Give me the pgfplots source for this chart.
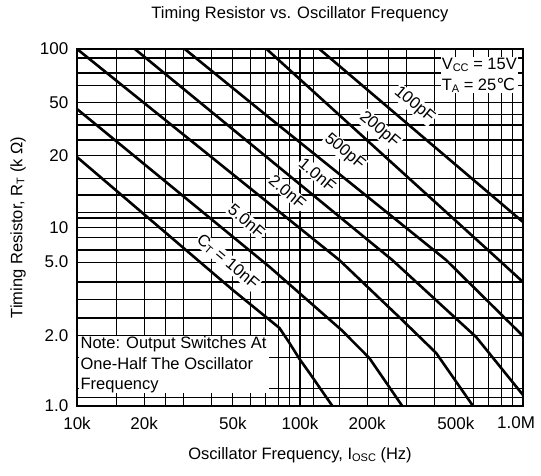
\documentclass[border=0pt]{standalone}
\usepackage{pgfplots}
\pgfplotsset{compat=1.18}
\usepackage{fontspec}
\setmainfont{Liberation Sans}
\newfontfamily\dejavu{DejaVu Sans}
\newcommand\sub[1]{\raisebox{-0.25ex}{\fontsize{11bp}{11bp}\selectfont #1}}

\begin{document}
\fontsize{16.5bp}{20.5bp}\selectfont
\begin{tikzpicture}
\useasboundingbox (-77bp,-70bp) rectangle (464bp,406bp);
\begin{axis}[
    width             = 446bp,
    height            = 357bp,
    scale only axis,
    xmode             = log,
    ymode             = log,
    xmin = 1e4, xmax = 1e6,
    ymin = 1,   ymax = 100,
    xtick             = {1e4,2e4,5e4,1e5,2e5,5e5,1e6},
    xticklabels       = {10k,20k,50k,100k,200k,500k,\makebox[24bp][r]{1.0M}},
    ytick             = {1,2.47,6.4,10,25.3,50,100},
    yticklabels       = {1.0,2.0,5.0,10,20,50,100},
    minor xtick       = {15e3,25e3,3e4,4e4,6e4,7e4,8e4,9e4,1.15e5,1.5e5,2.5e5,3e5,4e5,6e5,7e5,8e5,9e5},
    minor ytick       = {1.12,1.26,1.86,3.11,3.93,4.95,7.48,8.74,11.3,12.2,15.2,18.9,30.9,37.5,43.2,62.1,73.4,89},
    grid              = both,
    major grid style  = {black, line width=1.1bp},
    minor grid style  = {black, line width=1.1bp},
    axis line style   = {black, line width=1.3bp},
    major tick length = 0pt,
    minor tick length = 0pt,
    tick label style  = {font=\fontsize{17bp}{18bp}\selectfont},
    xticklabel style  = {yshift=-5bp},
    yticklabel style  = {xshift=-3bp}]

    \addplot[black, line width=2.6bp, line join=round] coordinates {
        (122200,100) (1e6,10.73)};
    \addplot[black, line width=2.6bp, line join=round] coordinates {
        (70800,100) (780600,6.57) (1e6,4.95)};
    \addplot[black, line width=2.6bp, line join=round] coordinates {
        (30420,100) (73100,41.06) (452300,6.57) (1e6,2.467)};
    \addplot[black, line width=2.6bp, line join=round] coordinates {
        (18170,100) (259400,6.57) (616300,2.435) (1e6,1.152)};
    \addplot[black, line width=2.6bp, line join=round] coordinates {
        (1e4,100) (150200,6.57) (287400,3.03) (408000,1.98) (597000,1)};
    \addplot[black, line width=2.6bp, line join=round] coordinates {
        (1e4,46.1) (73100,6.01) (153400,2.666) (204600,1.857) (287400,1)};
    \addplot[black, line width=2.6bp, line join=round] coordinates {
        (1e4,24.8) (49900,4.47) (80900,2.735) (89700,2.254) (99500,1.834) (110300,1.531) (139700,1)};

    \node[fill=white, inner sep=1bp, rotate=-40] at (axis cs:325300,48.6) {100pF};
    \node[fill=white, inner sep=1bp, rotate=-40] at (axis cs:226800,35.2) {200pF};
    \node[fill=white, inner sep=1bp, rotate=-40] at (axis cs:158200,26.5) {500pF};
    \node[fill=white, inner sep=1bp, rotate=-40] at (axis cs:119800,19.7) {1.0nF};
    \node[fill=white, inner sep=1bp, rotate=-40] at (axis cs:87900,15.8) {2.0nF};
    \node[fill=white, inner sep=1bp, rotate=-40] at (axis cs:57600,10.87) {5.0nF};
    \node[fill=white, inner sep=1bp, rotate=-40] at (axis cs:47400,6.41) {C\sub{T} = 10nF};

    \node[anchor=north west, fill=white, inner xsep=2bp, inner ysep=0.5bp, align=left]
        at (axis cs:10150,2.47) {Note: Output Switches At\\One-Half The Oscillator\\Frequency};
    \node[anchor=north east, fill=white, inner sep=1bp, align=left]
        at (axis cs:950000,90) {V\sub{CC} = 15V\\T\sub{A} = 25{\dejavu ℃}};
\end{axis}
\node at (223bp,392bp) {Timing Resistor vs. Oscillator Frequency};
\node at (223bp,-49bp) {Oscillator Frequency, I\sub{OSC} (Hz)};
\node[rotate=90] at (-59bp,178.5bp) {Timing Resistor, R\sub{T} (k Ω)};
\end{tikzpicture}
\end{document}
